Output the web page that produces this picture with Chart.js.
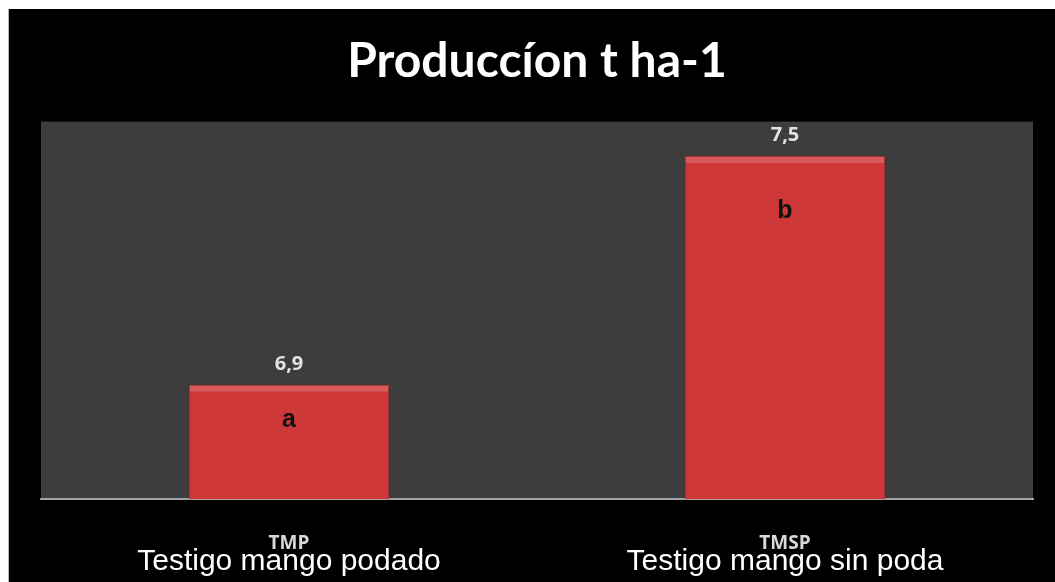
<!DOCTYPE html>
<html>
<head>
<meta charset="utf-8">
<script src="https://cdn.jsdelivr.net/npm/chart.js@4"></script>
<style>
    html, body { margin: 0; padding: 0; background: #fff; }
    .frame {
        position: absolute;
        left: 8px;
        top: 9px;
        width: 1047px;
        height: 573px;
        background: #000;
        border-left: 1px solid #b5b5b5;
        box-sizing: border-box;
    }
    canvas { display: block; }
</style>
</head>
<body>
<div class="frame">
    <canvas id="prodChart" width="1046" height="573"></canvas>
</div>
<script>
const chartTitle = 'Produccíon t ha-1';
const codes = ['TMP', 'TMSP'];
const categories = ['Testigo mango podado', 'Testigo mango sin poda'];
const production = [6.9, 7.5];
const letters = ['a', 'b'];
const yMin = 6.6;
const yMax = 7.59;

// gray plot background behind the bars
const plotBackground = {
    id: 'plotBackground',
    beforeDraw(chart) {
        const { ctx, chartArea } = chart;
        ctx.save();
        ctx.fillStyle = '#3d3d3d';
        ctx.fillRect(chartArea.left, chartArea.top, chartArea.right - chartArea.left, chartArea.bottom - chartArea.top);
        ctx.restore();
    }
};

// values above bars, letters inside, short codes above category names
const barText = {
    id: 'barText',
    afterDatasetsDraw(chart, args, opts) {
        const { ctx } = chart;
        const meta = chart.getDatasetMeta(0);
        const xScale = chart.scales.x;
        ctx.save();
        ctx.textAlign = 'center';
        ctx.textBaseline = 'alphabetic';
        meta.data.forEach((bar, i) => {
            // light top bevel like the original 3D bars
            const half = bar.width / 2;
            ctx.fillStyle = 'rgba(255,255,255,0.18)';
            ctx.fillRect(bar.x - half + 1, bar.y + 1, bar.width - 2, 6);

            ctx.fillStyle = '#e2e2e2';
            ctx.font = 'bold 20px "Open Sans"';
            ctx.fillText(production[i].toFixed(1).replace('.', ','), bar.x, bar.y - 15);

            ctx.fillStyle = '#111';
            ctx.font = 'bold 25px "Liberation Sans"';
            ctx.fillText(letters[i], bar.x, bar.y + opts.letterOffsets[i]);

            ctx.fillStyle = '#d8d8d8';
            ctx.font = 'bold 19px "Open Sans"';
            ctx.fillText(codes[i], xScale.getPixelForValue(i), 540);
        });
        ctx.restore();
    }
};

const ctx = document.getElementById('prodChart').getContext('2d');
new Chart(ctx, {
    type: 'bar',
    data: {
        labels: categories,
        datasets: [{
            data: production,
            backgroundColor: '#cf3838',
            borderColor: '#a82828',
            borderWidth: 1,
            barPercentage: 0.404,
            categoryPercentage: 1
        }]
    },
    options: {
        responsive: false,
        animation: false,
        layout: { padding: { left: 32, right: 22, top: 0, bottom: 6 } },
        plugins: {
            legend: { display: false },
            tooltip: { enabled: false },
            title: {
                display: true,
                text: chartTitle,
                color: '#fff',
                font: { family: 'Lato', size: 48, weight: 'bold' },
                padding: { top: 24, bottom: 31 }
            },
            barText: { letterOffsets: [42, 62] }
        },
        scales: {
            x: {
                grid: { display: false, drawTicks: false },
                border: { display: true, color: '#a3a3a3', width: 2 },
                ticks: {
                    color: '#fff',
                    padding: 45,
                    font: { family: 'Liberation Sans', size: 30 }
                },
                afterFit(scale) {
                    scale.height = 77;
                }
            },
            y: {
                display: false,
                min: yMin,
                max: yMax
            }
        }
    },
    plugins: [plotBackground, barText]
});
</script>
</body>
</html>
